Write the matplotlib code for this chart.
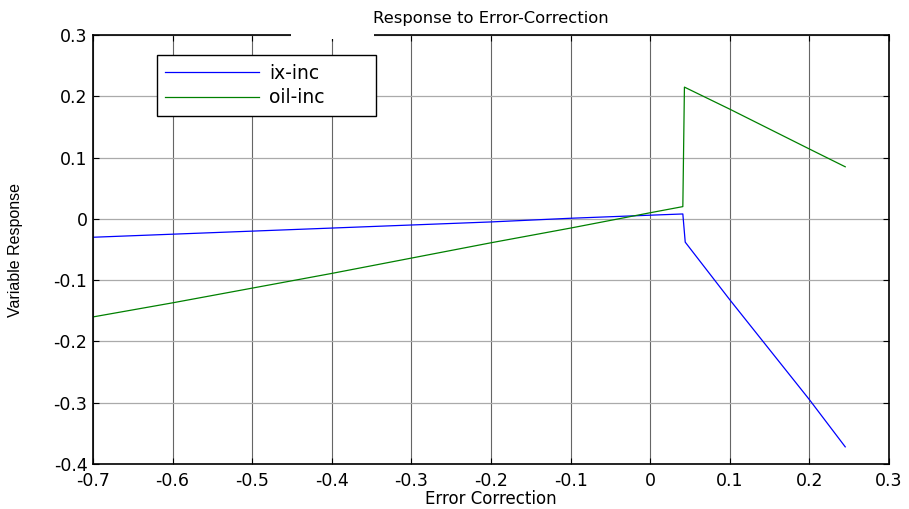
import matplotlib.pyplot as plt
from matplotlib.patches import Rectangle

plt.rcParams['font.family'] = ['DejaVu Sans']

# values
ix_x = [-0.7, -0.6, -0.5, -0.4, -0.3, -0.2, -0.1, 0.0, 0.041, 0.044, 0.1, 0.2, 0.245]
ix_y = [-0.030, -0.025, -0.020, -0.015, -0.010, -0.005, 0.001, 0.006, 0.008, -0.038,
        -0.132, -0.295, -0.372]
oil_x = [-0.7, -0.6, -0.5, -0.4, -0.3, -0.2, -0.1, 0.0, 0.041, 0.043, 0.1, 0.2, 0.245]
oil_y = [-0.160, -0.137, -0.113, -0.089, -0.064, -0.039, -0.015, 0.010, 0.020, 0.215, 0.179,
         0.114, 0.085]
xticks = [-0.7, -0.6, -0.5, -0.4, -0.3, -0.2, -0.1, 0, 0.1, 0.2, 0.3]
yticks = [-0.4, -0.3, -0.2, -0.1, 0, 0.1, 0.2, 0.3]

fig = plt.figure(figsize=(9.09, 5.09), dpi=100)
ax = fig.add_axes([0.1023, 0.0884, 0.8757, 0.8428])

ax.plot(ix_x, ix_y, color='#0000ff', lw=0.9, label='ix-inc')
ax.plot(oil_x, oil_y, color='#008000', lw=0.9, label='oil-inc')

ax.set_xlim(-0.7, 0.3)
ax.set_ylim(-0.4, 0.3)
ax.set_xticks(xticks)
ax.set_yticks(yticks)
ax.set_xticklabels(['0' if t == 0 else f'{t:g}' for t in xticks])
ax.set_yticklabels(['0' if t == 0 else f'{t:g}' for t in yticks])
ax.tick_params(direction='in', top=True, right=True, labelsize=12.5, length=4, width=0.8)
ax.tick_params(axis='x', pad=6)
ax.tick_params(axis='y', pad=4)
ax.xaxis.grid(True, color='#666666', lw=0.8)
ax.yaxis.grid(True, color='#aaaaaa', lw=0.9)
for s in ax.spines.values():
    s.set_linewidth(1.2)

ax.set_title('Response to Error-Correction', fontsize=11.8, pad=9)
ax.set_xlabel('Error Correction', fontsize=12, labelpad=0)
ax.set_ylabel('Variable Response', fontsize=11.5, labelpad=22, family='Liberation Sans')

# gap in the top border, as in the reference
ax.add_patch(Rectangle((0.249, 0.99), 0.104, 0.03, transform=ax.transAxes,
                       facecolor='white', edgecolor='none', clip_on=False, zorder=5))

leg = ax.legend(loc='upper left', bbox_to_anchor=(0.080, 0.813, 0.276, 0.14), mode='expand',
                fancybox=False, framealpha=1, edgecolor='black', fontsize=13.5,
                handlelength=5.0, borderaxespad=0, labelspacing=0.3, borderpad=0.45,
                handletextpad=0.55)
leg.get_frame().set_linewidth(1.0)

fig.savefig('out.png', dpi=100)
